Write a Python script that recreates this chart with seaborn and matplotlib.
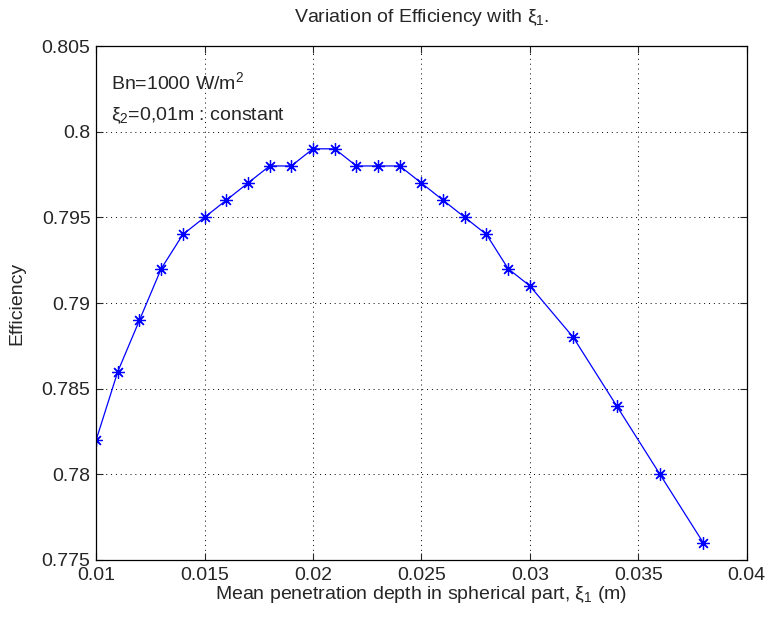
import pandas as pd
import matplotlib
matplotlib.use("Agg")
import matplotlib.pyplot as plt
import seaborn as sns

sns.set_style("ticks")
plt.rcParams['font.family'] = ['Liberation Sans', 'DejaVu Sans']
plt.rcParams['mathtext.fontset'] = 'custom'
plt.rcParams['mathtext.rm'] = 'Liberation Sans'
plt.rcParams['mathtext.it'] = 'Liberation Sans'

# mean penetration depth xi_1 (m)
depth = [0.010, 0.011, 0.012, 0.013, 0.014, 0.015, 0.016, 0.017, 0.018, 0.019,
         0.020, 0.021, 0.022, 0.023, 0.024, 0.025, 0.026, 0.027, 0.028, 0.029,
         0.030, 0.032, 0.034, 0.036, 0.038]
efficiency = [0.782, 0.786, 0.789, 0.792, 0.794, 0.795, 0.796, 0.797, 0.798, 0.798,
              0.799, 0.799, 0.798, 0.798, 0.798, 0.797, 0.796, 0.795, 0.794, 0.792,
              0.791, 0.788, 0.784, 0.780, 0.776]

x_ticks = [0.01, 0.015, 0.02, 0.025, 0.03, 0.035, 0.04]
x_tick_labels = ['0.01', '0.015', '0.02', '0.025', '0.03', '0.035', '0.04']
y_ticks = [0.775, 0.78, 0.785, 0.79, 0.795, 0.8, 0.805]
y_tick_labels = ['0.775', '0.78', '0.785', '0.79', '0.795', '0.8', '0.805']


def main():
    data = pd.DataFrame({'depth': depth, 'efficiency': efficiency})

    fig = plt.figure(figsize=(7.69, 6.17), dpi=100)
    ax = fig.add_axes([0.125, 0.0924, 0.846, 0.8330])

    sns.lineplot(data=data, x='depth', y='efficiency', ax=ax, color='#0000ff',
                 linewidth=0.9, marker=(8, 2, 0), markersize=9,
                 markeredgecolor='#0000ff', markeredgewidth=0.9)

    ax.set_xlim(0.01, 0.04)
    ax.set_ylim(0.775, 0.805)
    ax.set_xticks(x_ticks)
    ax.set_xticklabels(x_tick_labels)
    ax.set_yticks(y_ticks)
    ax.set_yticklabels(y_tick_labels)
    ax.tick_params(direction='in', top=True, right=True, length=5,
                   width=0.8, labelsize=14)
    ax.tick_params(axis='x', pad=5)
    ax.tick_params(axis='y', pad=4)
    ax.grid(True, linestyle=(0, (1, 4)), color='black', linewidth=0.7)
    for spine in ax.spines.values():
        spine.set_linewidth(0.9)
        spine.set_color('black')

    ax.set_title(r'Variation of Efficiency with $\xi_1$.', fontsize=14, pad=17)
    ax.set_xlabel(r'Mean penetration depth in spherical part, $\xi_1$ (m)',
                  fontsize=14, labelpad=0)
    ax.set_ylabel('Efficiency', fontsize=14, labelpad=12)

    ax.text(0.0107, 0.8029, r'Bn=1000 W/m$^2$', fontsize=14, va='center')
    ax.text(0.0107, 0.8009, r'$\xi_2$=0,01m : constant', fontsize=14, va='center')

    fig.savefig('out.png', dpi=100)


if __name__ == "__main__":
    main()
